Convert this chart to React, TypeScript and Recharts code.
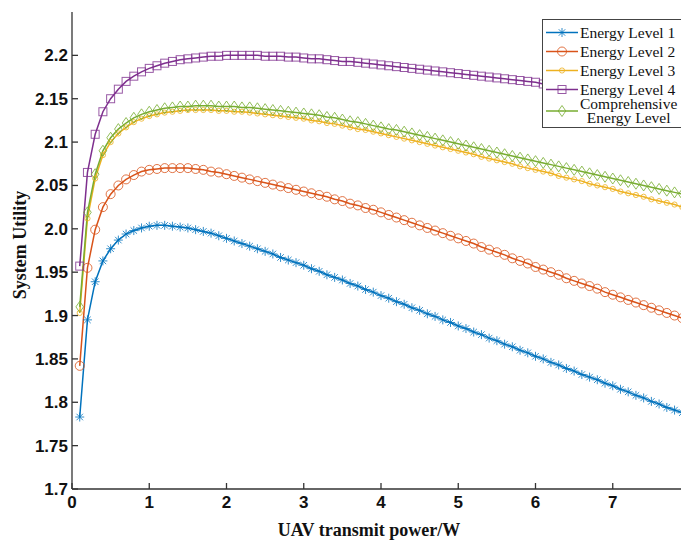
import { LineChart, Line, XAxis, YAxis, Legend } from 'recharts'

const xValues = [
  0.1, 0.2, 0.3, 0.4, 0.5, 0.6, 0.7, 0.8, 0.9, 1.0,
  1.1, 1.2, 1.3, 1.4, 1.5, 1.6, 1.7, 1.8, 1.9, 2.0,
  2.1, 2.2, 2.3, 2.4, 2.5, 2.6, 2.7, 2.8, 2.9, 3.0,
  3.1, 3.2, 3.3, 3.4, 3.5, 3.6, 3.7, 3.8, 3.9, 4.0,
  4.1, 4.2, 4.3, 4.4, 4.5, 4.6, 4.7, 4.8, 4.9, 5.0,
  5.1, 5.2, 5.3, 5.4, 5.5, 5.6, 5.7, 5.8, 5.9, 6.0,
  6.1, 6.2, 6.3, 6.4, 6.5, 6.6, 6.7, 6.8, 6.9, 7.0,
  7.1, 7.2, 7.3, 7.4, 7.5, 7.6, 7.7, 7.8, 7.9, 8.0,
]

const level1 = [
  1.783, 1.895, 1.939, 1.963, 1.977, 1.987, 1.994, 1.998, 2.001, 2.003,
  2.004, 2.004, 2.003, 2.002, 2.001, 1.999, 1.997, 1.995, 1.992, 1.989,
  1.986, 1.983, 1.980, 1.977, 1.974, 1.971, 1.967, 1.964, 1.961, 1.958,
  1.954, 1.951, 1.947, 1.944, 1.941, 1.937, 1.934, 1.930, 1.927, 1.923,
  1.920, 1.916, 1.913, 1.909, 1.906, 1.902, 1.899, 1.895, 1.892, 1.888,
  1.885, 1.881, 1.878, 1.874, 1.871, 1.867, 1.864, 1.860, 1.857, 1.853,
  1.850, 1.846, 1.843, 1.839, 1.836, 1.832, 1.829, 1.826, 1.822, 1.819,
  1.815, 1.812, 1.808, 1.805, 1.801, 1.798, 1.794, 1.791, 1.788, 1.784,
]

const level2 = [
  1.842, 1.955, 1.999, 2.025, 2.040, 2.050, 2.057, 2.062, 2.066, 2.068,
  2.069, 2.070, 2.070, 2.070, 2.070, 2.069, 2.068, 2.066, 2.065, 2.063,
  2.061, 2.059, 2.057, 2.055, 2.053, 2.051, 2.049, 2.047, 2.045, 2.043,
  2.041, 2.039, 2.037, 2.034, 2.032, 2.029, 2.027, 2.024, 2.022, 2.019,
  2.016, 2.013, 2.010, 2.007, 2.004, 2.001, 1.998, 1.995, 1.992, 1.989,
  1.986, 1.983, 1.979, 1.976, 1.973, 1.970, 1.966, 1.963, 1.960, 1.956,
  1.953, 1.950, 1.947, 1.943, 1.940, 1.937, 1.934, 1.931, 1.927, 1.924,
  1.921, 1.918, 1.915, 1.912, 1.909, 1.906, 1.903, 1.900, 1.897, 1.894,
]

const level3 = [
  1.903, 2.012, 2.058, 2.085, 2.100, 2.110, 2.117, 2.123, 2.127, 2.130,
  2.132, 2.134, 2.135, 2.136, 2.137, 2.137, 2.137, 2.137, 2.136, 2.136,
  2.135, 2.135, 2.134, 2.133, 2.132, 2.131, 2.130, 2.129, 2.128, 2.127,
  2.125, 2.124, 2.122, 2.121, 2.119, 2.117, 2.115, 2.114, 2.112, 2.110,
  2.108, 2.106, 2.104, 2.102, 2.100, 2.098, 2.096, 2.094, 2.092, 2.090,
  2.088, 2.086, 2.083, 2.081, 2.079, 2.077, 2.075, 2.072, 2.070, 2.068,
  2.066, 2.064, 2.061, 2.059, 2.057, 2.055, 2.052, 2.050, 2.048, 2.046,
  2.043, 2.041, 2.039, 2.037, 2.034, 2.032, 2.030, 2.028, 2.025, 2.023,
]

const level4 = [
  1.957, 2.065, 2.109, 2.135, 2.150, 2.161, 2.170, 2.176, 2.181, 2.185,
  2.188, 2.191, 2.193, 2.195, 2.196, 2.197, 2.198, 2.199, 2.199, 2.200,
  2.200, 2.200, 2.200, 2.200, 2.199, 2.199, 2.199, 2.198, 2.198, 2.197,
  2.196, 2.196, 2.195, 2.194, 2.193, 2.193, 2.192, 2.191, 2.190, 2.189,
  2.188, 2.187, 2.186, 2.185, 2.184, 2.183, 2.182, 2.181, 2.180, 2.179,
  2.178, 2.177, 2.176, 2.175, 2.174, 2.173, 2.172, 2.171, 2.170, 2.169,
  2.167, 2.166, 2.165, 2.164, 2.163, 2.161, 2.160, 2.159, 2.158, 2.156,
  2.155, 2.154, 2.153, 2.151, 2.150, 2.149, 2.148, 2.146, 2.145, 2.144,
]

const comprehensive = [
  1.910, 2.019, 2.063, 2.090, 2.105, 2.115, 2.122, 2.128, 2.132, 2.135,
  2.137, 2.139, 2.140, 2.141, 2.141, 2.142, 2.142, 2.142, 2.141, 2.141,
  2.141, 2.140, 2.140, 2.139, 2.138, 2.137, 2.136, 2.135, 2.134, 2.133,
  2.132, 2.131, 2.129, 2.128, 2.126, 2.124, 2.123, 2.121, 2.119, 2.117,
  2.115, 2.114, 2.112, 2.110, 2.108, 2.106, 2.104, 2.102, 2.100, 2.098,
  2.096, 2.094, 2.092, 2.090, 2.088, 2.086, 2.084, 2.082, 2.080, 2.078,
  2.076, 2.074, 2.072, 2.070, 2.068, 2.066, 2.064, 2.062, 2.060, 2.058,
  2.056, 2.054, 2.052, 2.050, 2.048, 2.046, 2.044, 2.042, 2.040, 2.038,
]

const xTicks = [0, 1, 2, 3, 4, 5, 6, 7, 8]
const yTicks = [1.7, 1.75, 1.8, 1.85, 1.9, 1.95, 2.0, 2.05, 2.1, 2.15, 2.2]
const yTickLabels = ['1.7', '1.75', '1.8', '1.85', '1.9', '1.95', '2.0', '2.05', '2.1', '2.15', '2.2']

const data = xValues.map((x, i) => ({
  x,
  l1: level1[i],
  l2: level2[i],
  l3: level3[i],
  l4: level4[i],
  comp: comprehensive[i],
}))

type Shape = 'star' | 'circle' | 'small' | 'square' | 'diamond'

const series: { key: string; name: string[]; color: string; shape: Shape }[] = [
  { key: 'l1', name: ['Energy Level 1'], color: '#0072BD', shape: 'star' },
  { key: 'l2', name: ['Energy Level 2'], color: '#D95319', shape: 'circle' },
  { key: 'l3', name: ['Energy Level 3'], color: '#EDB120', shape: 'small' },
  { key: 'l4', name: ['Energy Level 4'], color: '#7E2F8E', shape: 'square' },
  { key: 'comp', name: ['Comprehensive', 'Energy Level'], color: '#77AC30', shape: 'diamond' },
]

const AXIS = '#333'
const tickFont = { fill: '#111', fontSize: 17, fontWeight: 700, fontFamily: 'Liberation Sans, Arial, sans-serif' }

function marker(shape: Shape, color: string, cx: number, cy: number, key?: string) {
  const common = { stroke: color, strokeWidth: 1, fill: 'none', strokeOpacity: 0.8 }
  if (shape === 'star') {
    const r = 4.5
    const d = r * 0.72
    return (
      <g key={key} {...common}>
        <line x1={cx} y1={cy - r} x2={cx} y2={cy + r} />
        <line x1={cx - r} y1={cy} x2={cx + r} y2={cy} />
        <line x1={cx - d} y1={cy - d} x2={cx + d} y2={cy + d} />
        <line x1={cx - d} y1={cy + d} x2={cx + d} y2={cy - d} />
      </g>
    )
  }
  if (shape === 'circle') return <circle key={key} cx={cx} cy={cy} r={4.5} {...common} />
  if (shape === 'small') return <circle key={key} cx={cx} cy={cy} r={2.6} {...common} />
  if (shape === 'square')
    return <rect key={key} x={cx - 4} y={cy - 4} width={8} height={8} {...common} />
  return (
    <polygon
      key={key}
      points={`${cx},${cy - 5.5} ${cx + 3.8},${cy} ${cx},${cy + 5.5} ${cx - 3.8},${cy}`}
      {...common}
    />
  )
}

function makeDot(shape: Shape, color: string) {
  return (props: any) => {
    const { cx, cy, index } = props
    if (cx == null || cy == null) return <g key={`${shape}-${index}`} />
    return marker(shape, color, cx, cy, `${shape}-${index}`)
  }
}

function LegendBox() {
  return (
    <div
      style={{
        position: 'absolute',
        left: 542,
        top: 19,
        width: 150,
        height: 107,
        background: '#fff',
        border: '1px solid #444',
        fontFamily: 'Liberation Serif, Times New Roman, serif',
        fontSize: 15.5,
        color: '#111',
      }}
    >
      {series.map((s, i) => {
        const top = i < 4 ? 3 + i * 19 : 77
        const h = i < 4 ? 19 : 28
        return (
          <div key={s.key} style={{ position: 'absolute', left: 0, top, height: h, width: 150 }}>
            <svg width={36} height={h} style={{ position: 'absolute', left: 2, top: 0 }}>
              <line x1={1} y1={h / 2} x2={33} y2={h / 2} stroke={s.color} strokeWidth={1.5} />
              {marker(s.shape, s.color, 17, h / 2)}
            </svg>
            <div
              style={{
                position: 'absolute',
                left: 37,
                top: 0,
                lineHeight: s.name.length > 1 ? '13.5px' : `${h}px`,
                textAlign: 'center',
                whiteSpace: 'nowrap',
              }}
            >
              {s.name.map((n) => (
                <div key={n}>{n}</div>
              ))}
            </div>
          </div>
        )
      })}
    </div>
  )
}

export default function App() {
  return (
    <div style={{ position: 'absolute', left: 0, top: 0, width: 681, height: 542, overflow: 'hidden', background: '#fff' }}>
      <LineChart width={720} height={542} data={data} margin={{ top: 12, right: 30, bottom: 23, left: 22 }}>
        <XAxis
          dataKey="x"
          type="number"
          domain={[0, 8]}
          ticks={xTicks}
          interval={0}
          height={30}
          tickSize={-6}
          tickMargin={13}
          tick={tickFont}
          stroke={AXIS}
          strokeWidth={1.3}
          label={() => (
            <text
              x={369}
              y={536}
              textAnchor="middle"
              fontFamily="Liberation Serif, Times New Roman, serif"
              fontWeight={700}
              fontSize={18}
              fill="#111"
            >
              UAV transmit power/W
            </text>
          )}
        />
        <XAxis
          xAxisId="top"
          orientation="top"
          type="number"
          domain={[0, 8]}
          allowDataOverflow
          ticks={xTicks}
          interval={0}
          height={0}
          tickSize={-6}
          tickFormatter={() => ''}
          stroke={AXIS}
          strokeWidth={1.3}
        />
        <YAxis
          type="number"
          domain={[1.7, 2.25]}
          allowDataOverflow
          ticks={yTicks}
          interval={0}
          width={50}
          tickSize={-6}
          tickMargin={10}
          tick={tickFont}
          tickFormatter={(v: number) => yTickLabels[yTicks.indexOf(v)] ?? String(v)}
          stroke={AXIS}
          strokeWidth={1.3}
          label={() => (
            <text
              x={26}
              y={245}
              transform="rotate(-90 26 245)"
              textAnchor="middle"
              fontFamily="Liberation Serif, Times New Roman, serif"
              fontWeight={700}
              fontSize={18}
              fill="#111"
            >
              System Utility
            </text>
          )}
        />
        {series.map((s) => (
          <Line
            key={s.key}
            dataKey={s.key}
            name={s.name.join(' ')}
            stroke={s.color}
            strokeWidth={1.5}
            dot={makeDot(s.shape, s.color)}
            activeDot={false}
            isAnimationActive={false}
          />
        ))}
        <Legend content={() => <LegendBox />} wrapperStyle={{ position: 'absolute', left: 0, top: 0, width: 0, height: 0 }} />
      </LineChart>
    </div>
  )
}
